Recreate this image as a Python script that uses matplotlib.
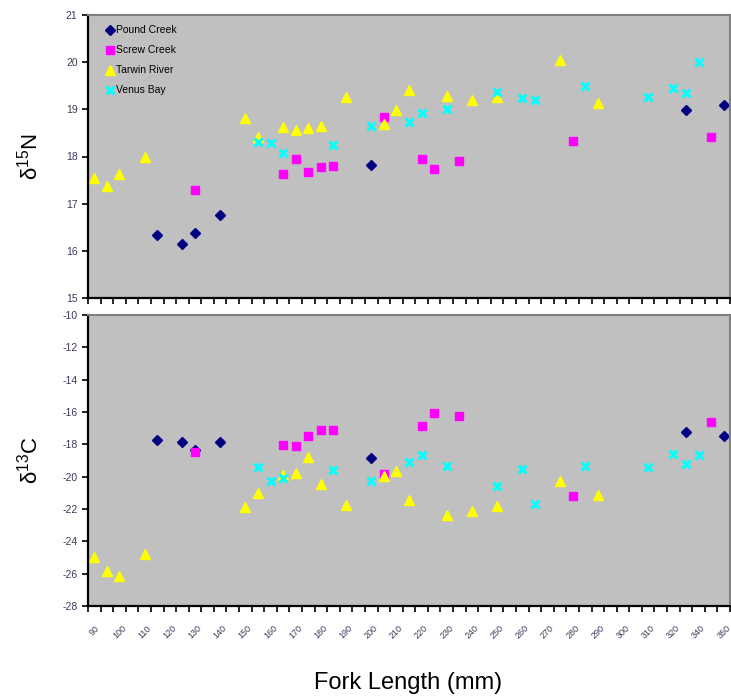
import numpy as np
from matplotlib import pyplot as plt

# Fork length categories on the x axis (Excel style category axis)
categories = list(range(90, 325, 5)) + [330, 340, 345, 350]
tick_labels = [str(c) for c in categories[::2]]

# Pound Creek
pound_fl = [115, 125, 130, 140, 200, 330, 350]
pound_n = [16.34, 16.15, 16.38, 16.75, 17.82, 18.98, 19.09]
pound_c = [-17.75, -17.83, -18.35, -17.83, -18.86, -17.24, -17.50]

# Screw Creek
screw_fl = [130, 165, 170, 175, 180, 185, 205, 220, 225, 235, 280, 345]
screw_n = [17.29, 17.63, 17.94, 17.67, 17.77, 17.80, 18.83, 17.94, 17.73, 17.90, 18.32, 18.41]
screw_c = [-18.47, -18.04, -18.10, -17.48, -17.11, -17.11, -19.85, -16.86, -16.08, -16.25, -21.19, -16.62]

# Tarwin River
tarwin_fl = [90, 95, 100, 110, 150, 155, 165, 170, 175, 180, 190, 205, 210, 215,
             230, 240, 250, 275, 290]
tarwin_n = [17.54, 17.37, 17.63, 17.98, 18.82, 18.42, 18.63, 18.56, 18.60, 18.65, 19.27,
            18.68, 18.99, 19.41, 19.29, 19.20, 19.26, 20.05, 19.14]
tarwin_c = [-24.95, -25.85, -26.12, -24.76, -21.87, -20.99, -19.90, -19.75, -18.78, -20.43,
            -21.77, -19.94, -19.63, -21.44, -22.39, -22.10, -21.79, -20.27, -21.15]

# Venus Bay
venus_fl = [155, 160, 165, 185, 200, 215, 220, 230, 250, 260, 265, 285, 310, 320, 330, 340]
venus_n = [18.31, 18.28, 18.08, 18.24, 18.65, 18.73, 18.92, 19.00, 19.37, 19.25, 19.20,
           19.50, 19.27, 19.45, 19.34, 20.00]
venus_c = [-19.42, -20.25, -20.06, -19.61, -20.25, -19.07, -18.66, -19.32, -20.56, -19.50,
           -21.67, -19.32, -19.42, -18.60, -19.20, -18.66]


def cat_pos(values):
    """Centre of each fork length category on the axis."""
    return [categories.index(v) + 0.5 for v in values]


plt.rcParams['font.family'] = ['Liberation Sans', 'DejaVu Sans']
plt.rcParams['axes.unicode_minus'] = False
plt.rcParams['mathtext.default'] = 'regular'
fig = plt.figure(figsize=(7.31, 7.0), dpi=100)
ax1 = fig.add_axes([88 / 731, 1 - 298 / 700, 642 / 731, 283 / 700])
ax2 = fig.add_axes([88 / 731, 1 - 606 / 700, 642 / 731, 291 / 700])

series = [
    ('Pound Creek', pound_fl, pound_n, pound_c, 'D', '#000080', 5.2, {}),
    ('Screw Creek', screw_fl, screw_n, screw_c, 's', '#FF00FF', 5.5, {}),
    ('Tarwin River', tarwin_fl, tarwin_n, tarwin_c, '^', '#FFFF00', 7, {}),
    ('Venus Bay', venus_fl, venus_n, venus_c, 'x', '#00FFFF', 5.5, {'markeredgewidth': 2.2}),
]

for name, fl, n15, c13, mk, col, ms, extra in series:
    x = cat_pos(fl)
    ax1.plot(x, n15, linestyle='none', marker=mk, color=col, markersize=ms,
             label=name, **extra)
    ax2.plot(x, c13, linestyle='none', marker=mk, color=col, markersize=ms, **extra)

ncat = len(categories)
for ax in (ax1, ax2):
    ax.set_facecolor('#C0C0C0')
    ax.set_xlim(0, ncat)
    ax.set_xticks(np.arange(0, ncat + 1), minor=False)
    ax.tick_params(axis='x', which='major', direction='out', length=4, width=1.2,
                   labelbottom=False)
    ax.tick_params(axis='y', direction='out', length=4, width=1.2, labelsize=7.5,
                   labelcolor='#3a3a5a')
    ax.spines['left'].set_color('black')
    ax.spines['bottom'].set_color('black')
    ax.spines['left'].set_linewidth(1.6)
    ax.spines['bottom'].set_linewidth(1.6)
    ax.spines['top'].set_color('#808080')
    ax.spines['right'].set_color('#808080')
    ax.spines['top'].set_linewidth(1.5)
    ax.spines['right'].set_linewidth(1.5)

ax1.set_ylim(15, 21)
ax1.set_yticks(np.arange(15, 22, 1))
ax2.set_ylim(-28, -10)
ax2.set_yticks(np.arange(-28, -9, 2))

# rotated category labels under the lower panel
for i, lab in enumerate(tick_labels):
    ax2.text(2 * i + 0.5, -29.1, lab, rotation=45, ha='center', va='top',
             fontsize=6.5, color='#3a3a5a')

ax1.legend(loc='upper left', bbox_to_anchor=(0.02, 0.985), frameon=False, fontsize=7.5,
           handlelength=0.6, handletextpad=0.3, labelspacing=0.95, borderaxespad=0.2,
           numpoints=1)

fig.text(30 / 731, 1 - 157 / 700, 'δ$^{15}$N', rotation=90, ha='center',
         va='center', fontsize=16)
fig.text(30 / 731, 1 - 460 / 700, 'δ$^{13}$C', rotation=90, ha='center',
         va='center', fontsize=16)
fig.text(408 / 731, 1 - 683 / 700, 'Fork Length (mm)', ha='center', va='center',
         fontsize=17)

plt.savefig('out.png', dpi=100)
